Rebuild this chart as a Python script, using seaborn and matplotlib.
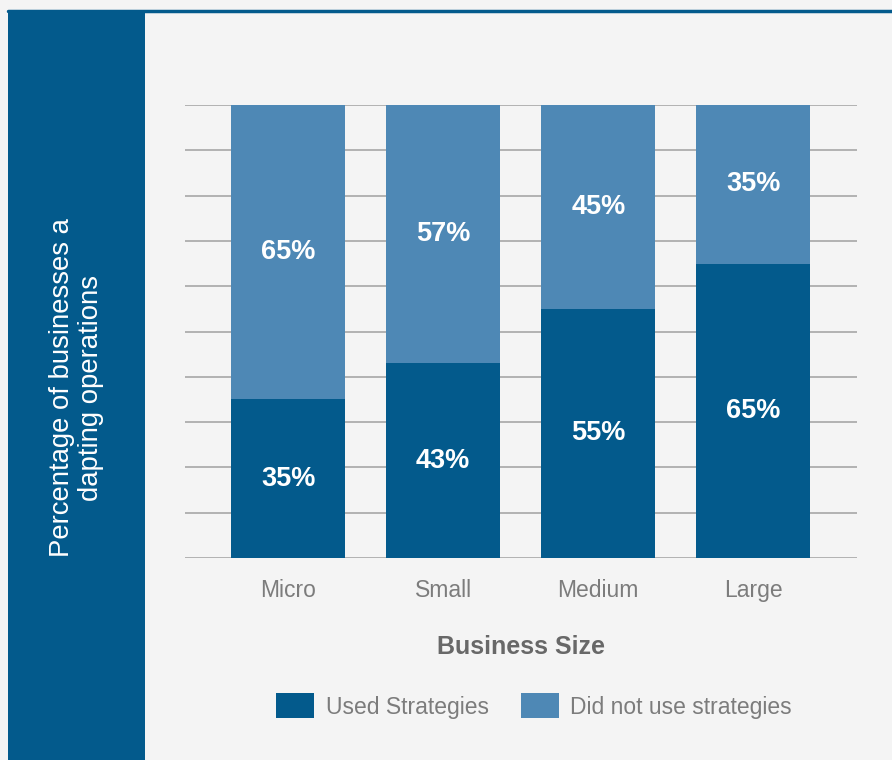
import matplotlib
matplotlib.use("Agg")
import matplotlib.pyplot as plt
from matplotlib.patches import Patch, Rectangle
from matplotlib.lines import Line2D
import seaborn as sns
import pandas as pd

# Survey results by business size (percent of businesses)
sizes = ["Micro", "Small", "Medium", "Large"]
used = [35, 43, 55, 65]
not_used = [65, 57, 45, 35]
series_names = ["Used Strategies", "Did not use strategies"]

DARK = "#035a8c"
LIGHT = "#4e88b5"
BG = "#f4f4f4"

sns.set_theme(style="white")
plt.rcParams["font.family"] = ["Liberation Sans", "DejaVu Sans"]

df = pd.DataFrame({"size": sizes, "used": used, "not_used": not_used})
df["total"] = df["used"] + df["not_used"]

fig = plt.figure(figsize=(8.92, 7.6), dpi=100, facecolor=BG)
W, H = 892, 760

# side panel and top rule
fig.patches.append(Rectangle((8 / W, 0), (145 - 8) / W, 1 - 10 / H,
                             transform=fig.transFigure, facecolor=DARK,
                             edgecolor="none", lw=0, zorder=0))
fig.add_artist(Line2D([8 / W, 1], [1 - 11 / H, 1 - 11 / H],
                      transform=fig.transFigure, color=DARK, lw=2.5))

ax = fig.add_axes([185 / W, 1 - 558 / H, 672 / W, 453 / H])
ax.set_facecolor("none")

# stacked bars: full stack first, then the lower segment over it
sns.barplot(data=df, x="size", y="total", color=LIGHT, width=0.735,
            saturation=1, ax=ax, zorder=3, linewidth=0, edgecolor="none")
sns.barplot(data=df, x="size", y="used", color=DARK, width=0.735,
            saturation=1, ax=ax, zorder=4, linewidth=0, edgecolor="none")

for i, (u, n) in enumerate(zip(used, not_used)):
    ax.text(i, u / 2, f"{u}%", ha="center", va="center", color="white",
            fontsize=19.5, fontweight="bold", zorder=5)
    ax.text(i, u + n / 2, f"{n}%", ha="center", va="center", color="white",
            fontsize=19.5, fontweight="bold", zorder=5)

ax.set_ylim(0, 100)
ax.set_xlim(-0.665, 3.668)
ax.set_yticks(range(0, 101, 10))
ax.set_yticklabels([])
ax.grid(axis="y", color="#a0a0a0", lw=1.1, zorder=0)
ax.set_axisbelow(True)
for s in ax.spines.values():
    s.set_visible(False)
ax.tick_params(axis="both", length=0)
ax.tick_params(axis="x", pad=15, labelsize=16.5, labelcolor="#7c7c7c")
ax.set_xlabel("Business Size", fontsize=18, fontweight="bold",
              color="#686868", labelpad=24)
ax.set_ylabel("")

fig.text(76.5 / W, 1 - 388 / H, "Percentage of businesses a\ndapting operations",
         rotation=90, ha="center", va="center", color="white",
         fontsize=19.8, linespacing=1.15, multialignment="center")

handles = [Patch(facecolor=DARK, edgecolor="none"),
           Patch(facecolor=LIGHT, edgecolor="none")]
leg = fig.legend(handles, series_names, loc="center",
                 bbox_to_anchor=(534 / W, 1 - 706 / H), ncol=2, frameon=False,
                 fontsize=16.5, handlelength=1.65, handleheight=1.3,
                 handletextpad=0.5, columnspacing=1.4)
for t in leg.get_texts():
    t.set_color("#7c7c7c")

fig.savefig("out.png", dpi=100, facecolor=BG)
